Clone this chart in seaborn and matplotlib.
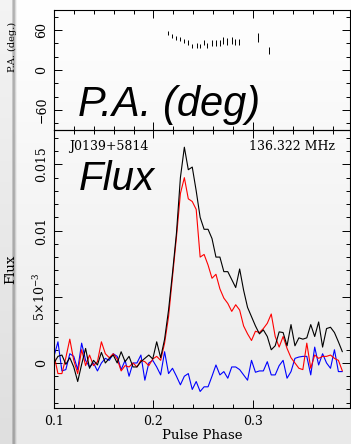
import numpy as np
import pandas as pd
import matplotlib
matplotlib.use("Agg")
import matplotlib.pyplot as plt
from matplotlib.ticker import MultipleLocator, FuncFormatter
import seaborn as sns

# ---- pulse profile (flux in units of 1e-3), one value per phase bin ----
phase_start = 0.1
phase_step = 0.00397
total_flux = [
    0.0, 0.5, 0.6, -0.1, 0.4, -0.3, -1.4, -0.1, 1.1, -0.4,
    0.2, -0.15, 0.8, 0.0, 0.35, 0.6, 0.0, 0.85, 0.1, 0.5,
    -0.3, -0.3, 0.1, 0.35, 0.6, 0.3, 1.6, 0.4, 1.8, 4.0,
    6.8, 9.8, 14.0, 16.3, 14.6, 14.8, 13.0, 11.0, 10.1, 10.1,
    9.4, 8.0, 8.0, 6.9, 6.9, 6.3, 5.7, 7.1, 5.5, 4.2,
    3.5, 2.8, 2.2, 2.5, 2.0, 1.0, 1.3, 2.35, 2.3, 1.3,
    2.9, 1.3, 1.9, 1.8, 1.9, 2.9, 2.0, 3.1, 1.2, 2.6,
    2.7, 2.3, 1.6, 0.85,
]
linear_flux = [
    0.6, -0.8, -0.8, 0.4, 1.8, 0.2, -0.8, 1.0, -0.2, 0.6,
    -0.2, 0.1, 1.6, 0.7, 0.4, 0.7, 0.3, -0.6, -0.2, -0.3,
    0.0, -0.3, 0.2, 0.1, -0.2, 0.3, 0.5, 0.2, 1.5, 3.5,
    6.5, 9.5, 12.8, 14.0, 12.4, 12.2, 11.6, 8.0, 8.2, 7.4,
    6.4, 6.7, 5.6, 4.9, 4.5, 3.9, 4.4, 4.0, 2.8, 2.2,
    1.7, 2.4, 2.3, 2.6, 3.0, 3.7, 2.0, 1.2, 2.0, 1.1,
    0.4, 0.0, -0.4, -0.5, 1.5, -0.4, 0.6, 0.35, 0.5, 0.5,
    0.6, 0.35, 0.2, -0.6,
]
circular_flux = [
    0.5, 1.6, -0.6, -0.5, 0.7, 0.5, -0.5, 1.5, 0.2, -0.3,
    0.0, -0.6, 0.0, 0.35, 0.2, 0.7, 0.5, -0.5, 0.2, -1.0,
    0.0, 0.0, 0.6, -1.3, 0.0, 0.2, -0.3, -0.9, 0.85, -0.8,
    -0.4, -1.0, -1.65, -1.0, -0.8, -2.0, -1.4, -2.15, -1.8, -1.8,
    -1.0, -0.15, -0.9, -0.65, -1.15, -0.3, -0.3, -0.5, -0.9, -1.3,
    0.2, -0.7, -0.6, -0.6, 0.1, -0.9, -0.9, -0.2, 0.2, -1.15,
    -0.65, 0.35, 0.45, 0.5, 0.5, -0.9, 1.2, -0.15, 0.7, 0.0,
    -0.4, 1.0, -0.65, -0.65,
]

# ---- polarisation position angle ----
pa_phase = [0.2146, 0.2190, 0.2230, 0.2271, 0.2307, 0.2347, 0.2388, 0.2433,
            0.2467, 0.2507, 0.2540, 0.2585, 0.2625, 0.2668, 0.2702, 0.2742,
            0.2786, 0.2819, 0.2859, 0.3047, 0.3164]
pa_deg = [56, 50.5, 48, 46, 44, 41, 36, 37, 36, 41, 37, 40.5, 40, 41,
          44, 42.5, 44, 42, 42, 48.5, 29.5]
pa_err = [3, 3, 3, 3, 3, 3.5, 3.5, 3.5, 3.5, 4, 4, 4, 4.5, 4.5,
          5, 5, 5, 5, 5, 6.5, 5]

source_name = "J0139+5814"
frequency_label = "136.322 MHz"

n_bins = len(total_flux)
phase = phase_start + phase_step * np.arange(n_bins)
profile = pd.DataFrame({
    "phase": np.tile(phase, 3),
    "flux": np.concatenate([total_flux, linear_flux, circular_flux]) * 1e-3,
    "stokes": np.repeat(["I", "L", "V"], n_bins),
})
pa = pd.DataFrame({"phase": pa_phase, "pa": pa_deg, "err": pa_err})

sns.set_theme(style="ticks")
plt.rcParams["font.family"] = ["DejaVu Serif"]
plt.rcParams["mathtext.fontset"] = "dejavuserif"
plt.rcParams["text.color"] = "black"
plt.rcParams["axes.labelcolor"] = "black"
plt.rcParams["xtick.color"] = "black"
plt.rcParams["ytick.color"] = "black"

W, H = 351, 444
fig = plt.figure(figsize=(W / 100, H / 100), dpi=100)

# soft slide-style backdrop: vertical white-to-grey fade with a window edge
bg = np.ones((H, W))
bg *= np.linspace(1.0, 0.915, H)[:, None]
edge = np.ones(W)
edge[:12] = 0.955
edge[12:17] = [0.80, 0.70, 0.72, 0.85, 0.95]
bg *= edge[None, :]
bg_ax = fig.add_axes([0, 0, 1, 1], zorder=-10)
bg_ax.imshow(np.dstack([bg] * 3), aspect="auto", interpolation="bilinear")
bg_ax.axis("off")

left, width = 54 / W, 296 / W
ax_pa = fig.add_axes([left, 1 - 130 / H, width, 120 / H])
ax_fx = fig.add_axes([left, 1 - 408 / H, width, 278 / H])
for ax in (ax_pa, ax_fx):
    ax.set_facecolor("none")
    ax.set_xlim(0.1, 0.3975)
    ax.xaxis.set_major_locator(MultipleLocator(0.1))
    ax.xaxis.set_minor_locator(MultipleLocator(0.02))
    ax.tick_params(which="both", direction="in", top=True, right=True,
                   width=0.7, colors="black", labelsize=9)
    ax.tick_params(which="major", length=6)
    ax.tick_params(which="minor", length=3)
    for s in ax.spines.values():
        s.set_linewidth(0.8)
        s.set_color("black")

# position angle panel
ax_pa.errorbar(pa["phase"], pa["pa"], yerr=pa["err"], fmt="none",
               ecolor="black", elinewidth=0.7, capsize=0)
ax_pa.set_ylim(-90, 90)
ax_pa.yaxis.set_major_locator(MultipleLocator(60))
ax_pa.yaxis.set_minor_locator(MultipleLocator(20))
ax_pa.tick_params(axis="x", labelbottom=False)
ax_pa.set_ylabel("P.A. (deg.)", fontsize=7)
ax_pa.yaxis.set_label_coords(-0.125, 0.69)
ax_pa.text(0.081, 0.12, "P.A. (deg)", transform=ax_pa.transAxes,
           fontsize=30, style="italic", family="Liberation Sans",
           color="black", va="baseline", ha="left")

# flux panel
sns.lineplot(data=profile, x="phase", y="flux", hue="stokes",
             palette={"I": "black", "L": "red", "V": "blue"},
             hue_order=["V", "L", "I"], estimator=None, sort=False,
             linewidth=0.8, legend=False, ax=ax_fx)
ax_fx.set_ylim(-0.0034, 0.0176)
ax_fx.yaxis.set_major_locator(MultipleLocator(0.005))
ax_fx.yaxis.set_minor_locator(MultipleLocator(0.001))


def flux_fmt(v, _):
    r = round(v * 1000)
    if r == 0:
        return "0"
    if r == 5:
        return r"$5{\times}10^{-3}$"
    return f"{v:g}"


ax_fx.yaxis.set_major_formatter(FuncFormatter(flux_fmt))
ax_fx.set_xlabel("Pulse Phase", fontsize=9.5, labelpad=1)
ax_fx.set_ylabel("Flux", fontsize=9.5)
ax_fx.yaxis.set_label_coords(-0.125, 0.5)
ax_fx.tick_params(axis="x", pad=5)
ax_fx.text(0.05, 0.942, source_name, transform=ax_fx.transAxes,
           fontsize=9, va="center", ha="left")
ax_fx.text(0.949, 0.942, frequency_label, transform=ax_fx.transAxes,
           fontsize=9, va="center", ha="right")
ax_fx.text(0.0845, 0.784, "Flux", transform=ax_fx.transAxes,
           fontsize=29, style="italic", family="Liberation Sans",
           color="black", va="baseline", ha="left")

for ax in (ax_pa, ax_fx):
    for lab in ax.get_yticklabels():
        lab.set_rotation(90)
        lab.set_va("center")
        lab.set_ha("right")
    ax.tick_params(axis="y", pad=4)

fig.savefig("out.png", dpi=100)
